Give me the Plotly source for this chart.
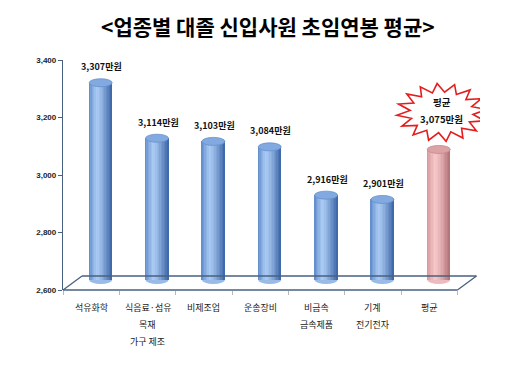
import math
import plotly.graph_objects as go

categories = ["석유화학", "식음료·섬유\n목재\n가구 제조", "비제조업", "운송장비", "비금속\n금속제품", "기계\n전기전자", "평균"]
values = [3307, 3114, 3103, 3084, 2916, 2901, 3075]
value_labels = ["3,307만원", "3,114만원", "3,103만원", "3,084만원", "2,916만원", "2,901만원", "3,075만원"]
y_ticks = [2600, 2800, 3000, 3200, 3400]
title_text = "<업종별 대졸 신입사원 초임연봉 평균>"
avg_title = "평균"

OFF = 8  # page body margin
W, H = 522 - OFF, 373 - OFF
ML, MR, MT, MB = 63 - OFF, 42, 60 - OFF, 83
XR = [-0.5, 6.9]
YR = [2600, 3400]
pw = W - ML - MR
ph = H - MT - MB
pxx = pw / (XR[1] - XR[0])          # px per x unit
pxy = ph / (YR[1] - YR[0])          # px per y unit

dx = 9.5 / pxx                      # mid-depth shift
bar_w = 23 / pxx
base_v = YR[0] + 10 / pxy
top_shift = 4 / pxy
ry = 4 / pxy

xs = [i + dx for i in range(len(values))]
is_avg = [c == "평균" for c in categories]

def lerp(c1, c2, t):
    return tuple(int(round(a + (b - a) * t)) for a, b in zip(c1, c2))

def shade(edge_l, hi, edge_r, t):
    p = 0.35
    if t < p:
        return lerp(edge_l, hi, (t / p) ** 0.8)
    return lerp(hi, edge_r, ((t - p) / (1 - p)) ** 1.3)

blue = ((88, 134, 198), (170, 202, 243), (58, 100, 165))
pink = ((210, 146, 148), (246, 200, 202), (178, 112, 116))

fig = go.Figure()
N = 16
for k in range(N):
    t = (k + 0.5) / N
    cols = []
    for a in is_avg:
        c = shade(*(pink if a else blue), t)
        cols.append("rgb(%d,%d,%d)" % c)
    fig.add_trace(go.Bar(
        x=xs, y=[v + top_shift - base_v for v in values], base=[base_v] * len(values),
        width=bar_w / N + 0.002, offset=-bar_w / 2 + k * bar_w / N,
        marker=dict(color=cols, line=dict(width=0)), hoverinfo="skip", showlegend=False))

shapes = []
for x, v, a in zip(xs, values, is_avg):
    mid = "rgb(%d,%d,%d)" % shade(*(pink if a else blue), 0.5)
    shapes.append(dict(type="circle", xref="x", yref="y", layer="below",
                       x0=x - bar_w / 2, x1=x + bar_w / 2, y0=base_v - ry, y1=base_v + ry,
                       fillcolor=mid, line=dict(width=0)))
    capc = "#dca3a6" if a else "#82aae0"
    capl = "#c48a8e" if a else "#6690cc"
    t = v + top_shift
    shapes.append(dict(type="circle", xref="x", yref="y", layer="above",
                       x0=x - bar_w / 2, x1=x + bar_w / 2, y0=t - ry, y1=t + ry,
                       fillcolor=capc, line=dict(width=0.8, color=capl)))

# 3D floor
floor_c = "#48607f"
back = 14 / ph
bx = 19 / pxx
n = len(categories)
for (x0, y0, x1, y1) in [(-0.5, 0, n - 0.5, 0), (-0.5 + bx, back, n - 0.5 + bx, back),
                         (-0.5, 0, -0.5 + bx, back), (n - 0.5, 0, n - 0.5 + bx, back)]:
    shapes.append(dict(type="line", xref="x", yref="paper", x0=x0, x1=x1, y0=y0, y1=y1,
                       line=dict(color=floor_c, width=1.3)))

# starburst
ia = is_avg.index(True)
sx, sy = ia + dx + 0.05, (values[ia] - YR[0]) / (YR[1] - YR[0])
star_up = 41
pts = []
M = 16
for j in range(2 * M):
    ang = math.pi * j / M + 0.1
    r = 1.0 if j % 2 == 0 else 0.7
    pts.append((45 * r * math.cos(ang), star_up + 29 * r * math.sin(ang)))
path = "M " + " L ".join("%.1f,%.1f" % p for p in pts) + " Z"
shapes.append(dict(type="path", xref="x", yref="paper", xsizemode="pixel", ysizemode="pixel",
                   xanchor=sx, yanchor=sy, path=path, fillcolor="white",
                   line=dict(color="#e41e1e", width=1.6)))

ann = []
for x, v, lab, a in zip(xs, values, value_labels, is_avg):
    if a:
        ann.append(dict(x=x + 0.05, y=v, xref="x", yref="y", yanchor="middle", text="<b>%s</b>" % avg_title,
                        showarrow=False, yshift=star_up + 10, font=dict(size=9.5, color="#111")))
        ann.append(dict(x=x + 0.05, y=v, xref="x", yref="y", yanchor="middle", text="<b>%s</b>" % lab,
                        showarrow=False, yshift=star_up - 7, font=dict(size=9.5, color="#111")))
    else:
        ann.append(dict(x=x + 0.02, y=v, xref="x", yref="y", yanchor="middle", text="<b>%s</b>" % lab,
                        showarrow=False, yshift=20, font=dict(size=9, color="#111")))

for i, c in enumerate(categories):
    for j, line in enumerate(c.split("\n")):
        ann.append(dict(x=i, y=0, xref="x", yref="paper", yanchor="middle", text=line, showarrow=False,
                        yshift=-17 - 17 * j, font=dict(size=9, color="#222")))

ann.append(dict(x=0.5, y=1, xref="paper", yref="paper", yanchor="middle", text="<b>%s</b>" % title_text,
                showarrow=False, yshift=(MT + OFF) - 26, xshift=-4,
                font=dict(size=21, color="#000", family="Noto Sans CJK KR")))

fig.update_layout(
    width=W, height=H, margin=dict(l=ML, r=MR, t=MT, b=MB),
    paper_bgcolor="white", plot_bgcolor="white",
    barmode="overlay", bargap=0,
    font=dict(family="Noto Sans CJK KR", color="#222"),
    shapes=shapes, annotations=ann, showlegend=False,
    xaxis=dict(range=XR, showgrid=False, zeroline=False, showline=False,
               tickvals=[i - 0.5 for i in range(n + 1)], ticktext=[""] * (n + 1),
               ticks="outside", ticklen=4, tickcolor="#b8b8b8", fixedrange=True),
    yaxis=dict(range=YR, showgrid=False, zeroline=False, showline=True, linecolor=floor_c, linewidth=1.3,
               tickvals=y_ticks, ticktext=["{:,}".format(t) for t in y_ticks],
               ticks="outside", ticklen=4, tickcolor=floor_c,
               tickfont=dict(size=8, family="Liberation Sans", color="#222", weight="bold"),
               fixedrange=True),
)
fig.write_html("out.html")
